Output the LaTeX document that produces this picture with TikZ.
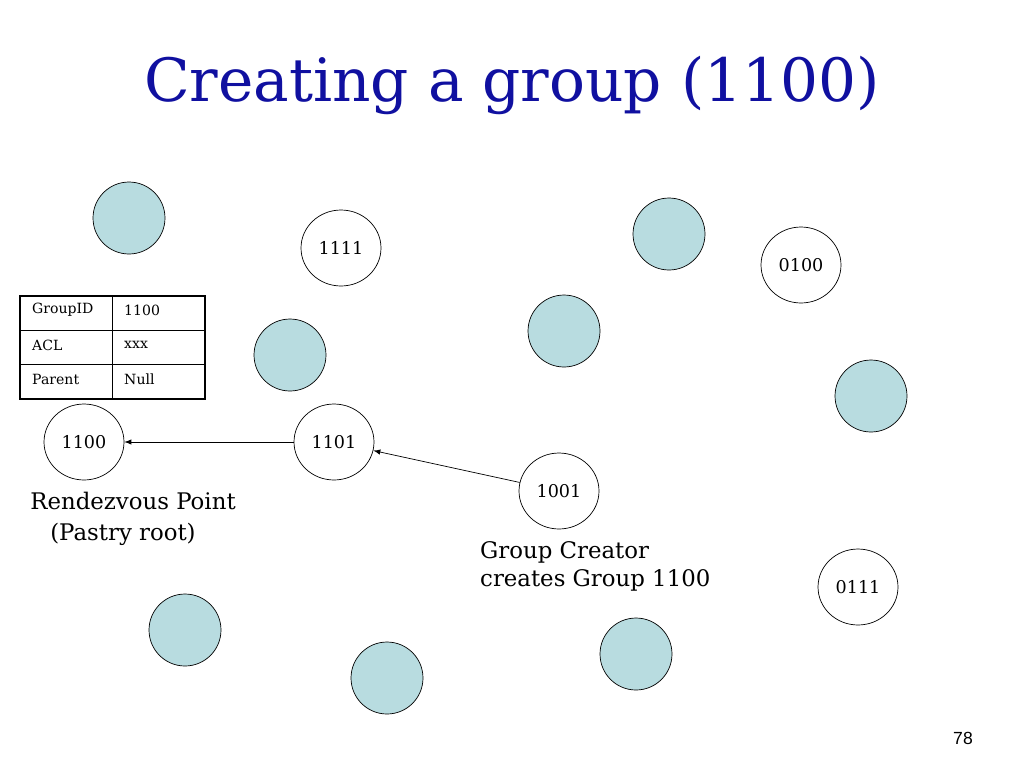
\documentclass[tikz,border=0pt]{standalone}
\usepackage{fontspec}
\setmainfont{DejaVu Serif}
\setsansfont{Liberation Sans}
\usetikzlibrary{positioning,shapes.geometric}
\definecolor{titleblue}{RGB}{16,16,160}
\definecolor{peer}{RGB}{184,220,224}
\tikzset{
  full/.style={circle, draw=black, fill=peer, minimum size=1.44cm, inner sep=0pt},
  free/.style={ellipse, draw=black, fill=white, minimum width=1.6cm, minimum height=1.52cm, inner sep=0pt, font=\fontsize{10}{12}\selectfont},
  cell/.style={anchor=west, font=\fontsize{8}{10}\selectfont}
}
\begin{document}
\begin{tikzpicture}[x=0.02cm, y=-0.02cm]
\useasboundingbox (0,0) rectangle (1024,768);
%title
\node (title) at (512,85) {\fontsize{34}{40}\selectfont\color{titleblue}Creating a group (1100)};
%filled peers
\node[full] (p1) at (129,218) {};
\node[full] (p2) at (669,234) {};
\node[full] (p3) at (290,355) {};
\node[full] (p4) at (564,331) {};
\node[full] (p5) at (871,396) {};
\node[full] (p6) at (185,630) {};
\node[full] (p7) at (387,678) {};
\node[full] (p8) at (636,654) {};
%named peers
\node[free] (n1111) at (341,248) {1111};
\node[free] (n0100) at (801,265) {0100};
\node[free] (n1100) at (84,442) {1100};
\node[free] (n1101) at (334,442) {1101};
\node[free] (n1001) at (559,491) {1001};
\node[free] (n0111) at (858,587) {0111};
%table
\draw[line width=1.2pt] (20,296) rectangle (205,399);
\draw (112,296) -- (112,399);
\draw (20,330) -- (205,330);
\draw (20,364) -- (205,364);
\node[cell] (g1) at (26,310) {GroupID};
\node[cell] (g2) at (118,310) {1100};
\node[cell] (a1) at (26,345) {ACL};
\node[cell] (a2) at (118,345) {xxx};
\node[cell] (r1) at (26,379) {Parent};
\node[cell] (r2) at (118,379) {Null};
%arrows
\draw[-latex] (n1101) -- (n1100);
\draw[-latex] (n1001) -- (n1101);
%labels
\node[font=\fontsize{13}{16}\selectfont] (rp) at (133,501) {Rendezvous Point};
\node[font=\fontsize{13}{16}\selectfont] (pr) at (123,534) {(Pastry root)};
\node[font=\fontsize{13}{16}\selectfont, align=left, anchor=north west] (gc) at (474,535) {Group Creator\\creates Group 1100};
\node[font=\sffamily\fontsize{10}{12}\selectfont] (num) at (963,738) {78};
\end{tikzpicture}
\end{document}
